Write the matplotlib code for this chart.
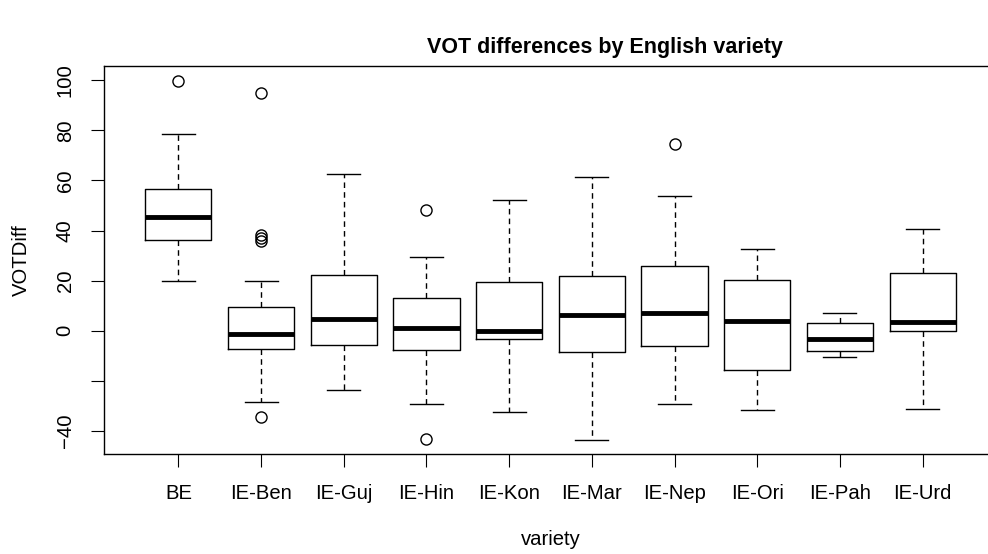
import matplotlib.pyplot as plt

plt.rcParams['font.family'] = ['Liberation Sans', 'DejaVu Sans']

# five-number summaries
varieties = ["BE", "IE-Ben", "IE-Guj", "IE-Hin", "IE-Kon",
             "IE-Mar", "IE-Nep", "IE-Ori", "IE-Pah", "IE-Urd"]
whislo = [19.8, -28.3, -23.7, -29.3, -32.5, -43.6, -29.1, -31.5, -10.4, -31.1]
q1 = [36.2, -7.4, -5.7, -7.8, -3.2, -8.6, -6.0, -15.7, -8.1, -0.1]
med = [45.3, -1.4, 4.9, 1.2, 0.0, 6.3, 6.9, 4.1, -3.2, 3.6]
q3 = [56.4, 9.6, 22.1, 12.9, 19.4, 22.0, 25.8, 20.4, 3.2, 23.2]
whishi = [78.4, 20.0, 62.6, 29.5, 52.2, 61.5, 53.9, 32.6, 7.1, 40.7]
fliers = [[99.8], [95.0, 38.2, 36.9, 35.8, -34.3], [], [48.2, -43.1], [],
          [], [74.4], [], [], []]

yticks = [-40, -20, 0, 20, 40, 60, 80, 100]
ytick_labels = ["\u221240", "", "0", "20", "40", "60", "80", "100"]

stats = []
for i, name in enumerate(varieties):
    stats.append(dict(label=name, whislo=whislo[i], q1=q1[i], med=med[i],
                      q3=q3[i], whishi=whishi[i], fliers=fliers[i]))

fig = plt.figure(figsize=(9.88, 5.54), dpi=100)
ax = fig.add_axes([104 / 988, 1 - 454.3 / 554, 893 / 988, 388.6 / 554])

ax.bxp(stats, positions=range(1, 11), widths=0.8,
       boxprops=dict(color="black", linewidth=1.0),
       medianprops=dict(color="black", linewidth=3.5, solid_capstyle="butt"),
       whiskerprops=dict(color="black", linewidth=1.0, linestyle=(0, (4, 3))),
       capprops=dict(color="black", linewidth=1.0),
       capwidths=0.4,
       flierprops=dict(marker="o", markerfacecolor="none",
                       markeredgecolor="black", markersize=8, markeredgewidth=1.0))

ax.set_xlim(0.1, 10.9)
ax.set_ylim(-49.3, 105.8)
ax.set_yticks(yticks)
ax.set_yticklabels(ytick_labels, rotation=90, va="center")
ax.tick_params(axis="both", length=12.7 * 0.72, width=0.8, labelsize=14.6)
ax.tick_params(axis="y", pad=12)
ax.tick_params(axis="x", pad=12)
for s in ax.spines.values():
    s.set_linewidth(1.0)
ax.spines["right"].set_visible(False)  # frame runs off the right edge

ax.set_xlabel("variety", fontsize=14.6, labelpad=20)
ax.set_ylabel("VOTDiff", fontsize=14.6, labelpad=18)
fig.text(605 / 988, 1 - 48 / 554, "VOT differences by English variety",
         ha="center", va="center", fontsize=15.5, fontweight="bold")

fig.savefig("out.png", dpi=100)
